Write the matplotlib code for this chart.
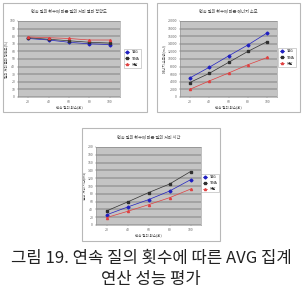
import matplotlib
matplotlib.use("Agg")
import matplotlib.pyplot as plt
from matplotlib.patches import Rectangle

plt.rcParams['font.family'] = ['Noto Sans CJK KR', 'DejaVu Sans']

W, H = 302, 291

query_counts = [20, 40, 60, 80, 100]
series_names = ["TAG", "TiNA", "제안"]

acc_tag = [77, 75, 72, 70, 69]
acc_tina = [78, 76, 74, 72, 71]
acc_prop = [79, 78, 77, 75, 75]

energy_tag = [5000, 7800, 10800, 13700, 16900]
energy_tina = [3800, 6200, 9100, 12000, 14600]
energy_prop = [2000, 4200, 6300, 8500, 10400]

time_tag = [26, 46, 65, 87, 116]
time_tina = [36, 59, 83, 105, 137]
time_prop = [19, 35, 52, 70, 92]

titles = ["연속 질의 횟수에 따른 질의 처리 결과 정확도",
          "연속 질의 횟수에 따른 에너지 소모",
          "연속 질의 횟수에 따른 질의 처리 시간"]
ylabels = ["질의 처리 결과 정확도(%)", "에너지 소모량(mJ)", "질의 처리 시간(ms)"]
xlabel = "연속 질의 횟수(회)"
caption = "그림 19. 연속 질의 횟수에 따른 AVG 집계\n연산 성능 평가"

colors = ["#2020c0", "#303030", "#e04040"]
markers = ["D", "s", "^"]

fig = plt.figure(figsize=(W / 100, H / 100), dpi=100)


def px(x0, y0, x1, y1):
    # pixel box (top-left origin) -> figure fraction rect
    return [x0 / W, 1 - y1 / H, (x1 - x0) / W, (y1 - y0) / H]


def panel(box, area, leg, data, ymax, ystep, title, ylabel):
    r = px(*box)
    fig.patches.append(Rectangle((r[0], r[1]), r[2], r[3], transform=fig.transFigure,
                                 fill=False, edgecolor="#b8b8b8", lw=0.8))
    ax = fig.add_axes(px(*area))
    ax.set_facecolor("#c4c4c4")
    for vals, name, c, m in zip(data, series_names, colors, markers):
        ax.plot(query_counts, vals, color=c, marker=m, ms=1.5, lw=0.5, label=name)
    ax.set_xlim(10, 110)
    ax.set_ylim(0, ymax)
    ax.set_xticks(query_counts)
    ax.set_yticks(range(0, ymax + 1, ystep))
    ax.yaxis.grid(True, color="#404040", lw=0.35)
    ax.set_axisbelow(True)
    ax.tick_params(labelsize=2.5, length=1, width=0.3, pad=1, colors="#666666")
    for s in ax.spines.values():
        s.set_color("#909090")
        s.set_linewidth(0.4)
    ax.set_title(title, fontsize=3, pad=6, color="#444444")
    ax.set_xlabel(xlabel, fontsize=2.5, labelpad=1, color="#444444")
    ax.set_ylabel(ylabel, fontsize=2.5, labelpad=1, color="#444444")
    lr = px(*leg)
    ax.legend(fontsize=2.5, loc="center", bbox_to_anchor=(lr[0], lr[1], lr[2], lr[3]),
              bbox_transform=fig.transFigure, frameon=True, fancybox=False,
              edgecolor="#999999", handlelength=1.2, borderpad=0.4, labelspacing=0.6)
    ax.get_legend().get_frame().set_linewidth(0.4)


panel((3, 3, 147, 112), (18, 21, 120, 97), (124, 49, 141, 68),
      [acc_tag, acc_tina, acc_prop], 100, 10, titles[0], ylabels[0])
panel((157, 3, 300, 112), (180, 21, 277, 97), (279, 48, 295, 67),
      [energy_tag, energy_tina, energy_prop], 20000, 2000, titles[1], ylabels[1])
panel((82, 128, 220, 241), (96, 147, 201, 225), (203, 173, 217, 193),
      [time_tag, time_tina, time_prop], 200, 20, titles[2], ylabels[2])

fig.text(0.5, 1 - 269 / H, caption, ha="center", va="center", fontsize=12,
         linespacing=1.3, color="#222222")

fig.savefig("out.png", dpi=100)
